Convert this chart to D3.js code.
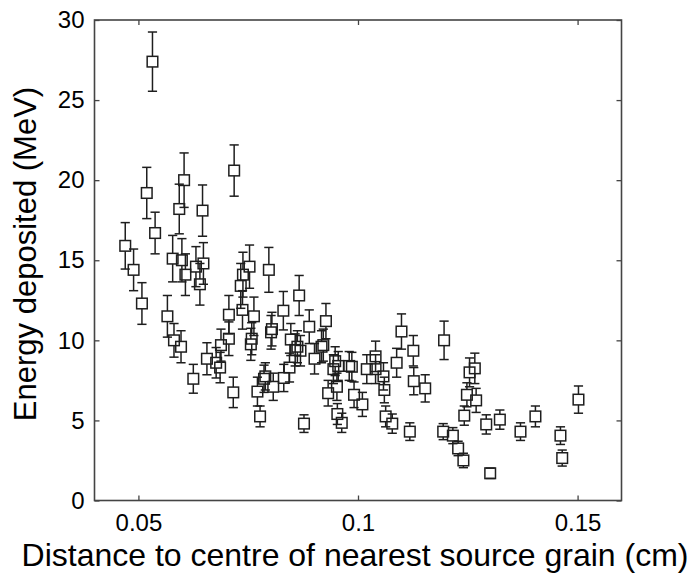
<!DOCTYPE html>
<html>
<head>
<meta charset="utf-8">
<script src="https://cdn.jsdelivr.net/npm/d3@7"></script>
<style>
  html, body { margin: 0; padding: 0; background: #fff; }
  svg { display: block; font-family: "Liberation Sans", Arial, sans-serif; }
</style>
</head>
<body>
<svg id="chart" width="693" height="579"></svg>
<script>
// Distance to nearest source grain (cm)
const distance = [
  0.0470, 0.0489, 0.0508, 0.0519, 0.0532, 0.0538, 0.0566, 0.0578, 0.0581, 0.0593,
  0.0597, 0.0599, 0.0604, 0.0607, 0.0625, 0.0631, 0.0640, 0.0646, 0.0648, 0.0656,
  0.0677, 0.0686, 0.0688, 0.0706, 0.0706, 0.0716, 0.0718, 0.0733, 0.0738, 0.0737,
  0.0753, 0.0758, 0.0756, 0.0763, 0.0771, 0.0777, 0.0786, 0.0789, 0.0797, 0.0802,
  0.0804, 0.0807, 0.0830, 0.0831, 0.0844, 0.0847, 0.0857, 0.0862, 0.0866, 0.0869,
  0.0877, 0.0889, 0.0901, 0.0917, 0.0921, 0.0927, 0.0932, 0.0944, 0.0948, 0.0952,
  0.0953, 0.0955, 0.0963, 0.0980, 0.0986, 0.0991, 0.1010, 0.1020, 0.1040, 0.1040,
  0.1058, 0.1060, 0.1063, 0.1078, 0.1088, 0.1099, 0.1118, 0.1126, 0.1127, 0.1153,
  0.1194, 0.1196, 0.1216, 0.1228, 0.1240, 0.1242, 0.1248, 0.1254, 0.1266, 0.1269,
  0.1292, 0.1301, 0.1323, 0.1370, 0.1404, 0.1461, 0.1465, 0.1502
];

// Energy deposited (MeV)
const energy = [
  15.9, 14.4, 12.3, 19.2, 27.4, 16.7, 11.5, 15.1, 10.0, 18.2,
  9.6, 15.0, 20.0, 14.1, 7.6, 14.6, 13.5, 18.1, 14.8, 8.85,
  8.6, 8.3, 9.7, 10.1, 11.6, 6.75, 20.6, 13.4, 14.1, 11.9,
  14.6, 10.1, 9.75, 11.5, 6.8, 5.25, 7.6, 7.75, 14.4, 10.5,
  10.7, 7.1, 11.85, 7.65, 8.3, 10.05, 9.4, 9.6, 12.8, 9.35,
  4.8, 10.85, 8.85, 9.6, 9.7, 11.2, 6.7, 8.2, 8.7, 7.1,
  5.4, 8.4, 4.85, 8.4, 8.35, 6.6, 6.0, 8.2, 9.0, 8.2,
  7.75, 6.9, 5.25, 4.8, 8.6, 10.55, 4.3, 9.35, 7.45, 7.0,
  4.3, 10.0, 4.05, 3.25, 2.5, 5.3, 6.6, 8.0, 8.25, 6.25,
  4.75, 1.7, 5.05, 4.3, 5.25, 4.05, 2.65, 6.3
];

// Uncertainty on each energy value (MeV)
const uncertainty = [
  1.45, 1.3, 1.3, 1.6, 1.85, 1.3, 1.3, 1.45, 1.05, 1.55,
  1.0, 1.35, 1.7, 1.3, 0.9, 1.25, 1.3, 1.6, 1.3, 1.0,
  0.95, 0.95, 1.0, 1.05, 1.2, 0.95, 1.6, 1.4, 1.4, 1.2,
  1.35, 1.0, 1.0, 1.2, 0.9, 0.65, 0.85, 0.85, 1.4, 1.05,
  1.05, 0.85, 1.2, 0.85, 0.9, 1.0, 1.0, 1.0, 1.25, 0.95,
  0.55, 1.05, 0.95, 1.0, 1.0, 1.1, 0.8, 0.9, 0.9, 0.85,
  0.65, 0.9, 0.6, 0.9, 0.9, 0.8, 0.75, 0.9, 0.95, 0.9,
  0.85, 0.8, 0.65, 0.6, 0.9, 1.1, 0.55, 0.95, 0.85, 0.85,
  0.5, 1.2, 0.5, 0.45, 0.45, 0.6, 0.75, 0.9, 0.95, 0.75,
  0.6, 0.32, 0.6, 0.55, 0.65, 0.55, 0.5, 0.85
];

const xTicks = [0.05, 0.1, 0.15];
const xTickLabels = ["0.05", "0.1", "0.15"];
const yTicks = [0, 5, 10, 15, 20, 25, 30];

const xTitle = "Distance to centre of nearest source grain (cm)";
const yTitle = "Energy deposited (MeV)";

const svg = d3.select("#chart");
const plotLeft = 94.5, plotRight = 621.5, plotTop = 20, plotBottom = 500.5;

const x = d3.scaleLinear().domain([0.04, 0.16]).range([plotLeft, plotRight]);
const y = d3.scaleLinear().domain([0, 30]).range([plotBottom, plotTop]);

const axisColor = "#444";
const markColor = "#1e1e1e";

// Axes with inward ticks on all four sides
function styleAxis(g) {
  g.select(".domain").remove();
  g.selectAll(".tick line").attr("stroke", axisColor).attr("stroke-width", 1.3);
  g.selectAll(".tick text")
    .attr("fill", "#000")
    .style("font-size", "24px")
    .style("font-family", "'Liberation Sans', Arial, sans-serif");
}

svg.append("g")
  .attr("transform", `translate(0,${plotBottom})`)
  .call(d3.axisBottom(x).tickValues(xTicks)
    .tickFormat((d, i) => xTickLabels[i]).tickSize(-5).tickPadding(13.5))
  .call(styleAxis);

svg.append("g")
  .attr("transform", `translate(0,${plotTop})`)
  .call(d3.axisTop(x).tickValues(xTicks).tickFormat("").tickSize(-5))
  .call(styleAxis);

svg.append("g")
  .attr("transform", `translate(${plotLeft},0)`)
  .call(d3.axisLeft(y).tickValues(yTicks).tickFormat(d3.format("d"))
    .tickSize(-5).tickPadding(10))
  .call(styleAxis);

svg.append("g")
  .attr("transform", `translate(${plotRight},0)`)
  .call(d3.axisRight(y).tickValues(yTicks).tickFormat("").tickSize(-5))
  .call(styleAxis);

// Plot frame
svg.append("rect")
  .attr("x", plotLeft).attr("y", plotTop)
  .attr("width", plotRight - plotLeft).attr("height", plotBottom - plotTop)
  .attr("fill", "none")
  .attr("stroke", axisColor)
  .attr("stroke-width", 1.6);

// Error bars and square markers
const half = 5.3;   // half side of each square marker
const cap = 4.6;    // half width of error bar caps

const points = distance.map((d, i) => ({ d, e: energy[i], u: uncertainty[i] }));
const marks = svg.append("g")
  .attr("stroke", markColor)
  .attr("stroke-width", 1.5)
  .attr("fill", "none");

points.forEach(p => {
  const cx = x(p.d), cy = y(p.e);
  const yHi = y(p.e + p.u), yLo = y(p.e - p.u);
  const g = marks.append("g");
  if (cy - half > yHi) {
    g.append("line").attr("x1", cx).attr("x2", cx).attr("y1", yHi).attr("y2", cy - half);
    g.append("line").attr("x1", cx).attr("x2", cx).attr("y1", cy + half).attr("y2", yLo);
  }
  g.append("line").attr("x1", cx - cap).attr("x2", cx + cap).attr("y1", yHi).attr("y2", yHi);
  g.append("line").attr("x1", cx - cap).attr("x2", cx + cap).attr("y1", yLo).attr("y2", yLo);
  g.append("rect")
    .attr("x", cx - half).attr("y", cy - half)
    .attr("width", 2 * half).attr("height", 2 * half);
});

// Axis titles
svg.append("text")
  .attr("x", 355).attr("y", 566)
  .attr("text-anchor", "middle")
  .style("font-size", "32px")
  .attr("fill", "#000")
  .text(xTitle);

svg.append("text")
  .attr("transform", "translate(36,254) rotate(-90)")
  .attr("text-anchor", "middle")
  .style("font-size", "31px")
  .attr("fill", "#000")
  .text(yTitle);
</script>
</body>
</html>
